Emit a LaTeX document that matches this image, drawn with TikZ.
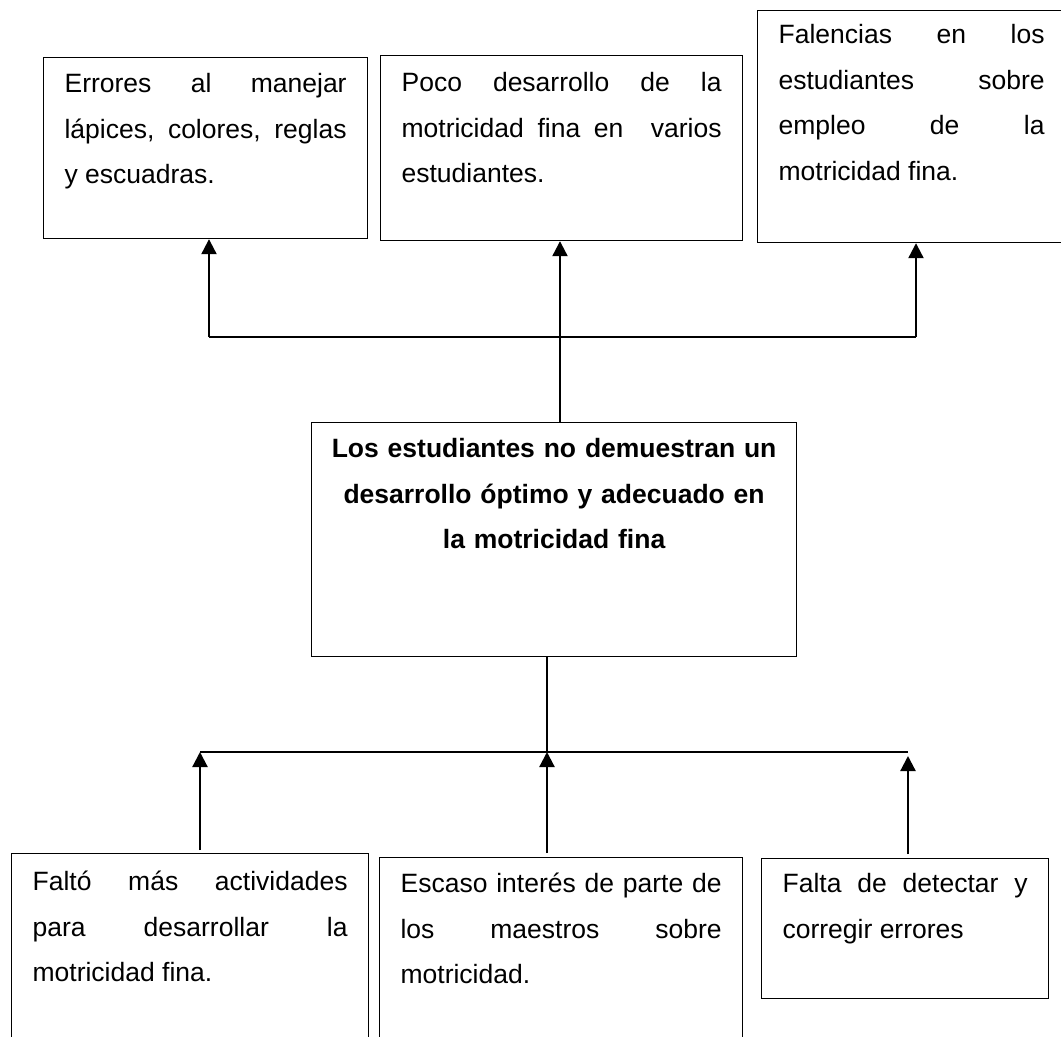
\documentclass[tikz,border=0pt]{standalone}
\usepackage{fontspec}
\setmainfont{Liberation Sans}
\usepackage{tikz}
\usetikzlibrary{arrows.meta,calc,positioning}
\hyphenpenalty=10000
\exhyphenpenalty=10000

\begin{document}
\begin{tikzpicture}[x=0.5pt,y=-0.5pt,
  caja/.style={draw,line width=0.6pt,anchor=north west,inner xsep=10.5pt,inner ysep=0pt,
    align=justify,font=\fontsize{13.25}{22.75}\selectfont},
  linea/.style={line width=0.6pt},
  flecha/.style={line width=1.1pt,-{Triangle[width=7.5pt,length=7.5pt]}}]
  \useasboundingbox (0,0) rectangle (1061,1037);
  \clip (0,0) rectangle (1061,1037);
  % --- Efectos (fila superior) ---
  \node[caja,text width=141pt,text height=17.5pt,text depth=73pt] (efecto1) at (43,57)
    {Errores al manejar\linebreak lápices, colores, reglas\linebreak y escuadras.};
  \node[caja,text width=160pt,text height=18pt,text depth=74.5pt] (efecto2) at (380,55)
    {Poco desarrollo de la\linebreak motricidad fina en\ \ varios\linebreak estudiantes.};
  \node[caja,text width=133pt,text height=16.5pt,text depth=99.5pt] (efecto3) at (757,10)
    {Falencias en los\linebreak estudiantes sobre\linebreak empleo de la\linebreak motricidad fina.};
  % --- Problema central ---
  \node[caja,align=center,text width=230pt,inner xsep=6.25pt,text height=17.5pt,text depth=99.5pt,
    font=\fontsize{13.25}{22.75}\selectfont\bfseries] (problema) at (311,422)
    {Los estudiantes no demuestran un\\ desarrollo óptimo y adecuado en\\ la motricidad fina};
  % --- Causas (fila inferior) ---
  \node[caja,text width=157.5pt,text height=18.5pt,text depth=85pt] (causa1) at (11,853)
    {Faltó más actividades\linebreak para desarrollar la\linebreak motricidad fina.};
  \node[caja,text width=160.5pt,text height=17.5pt,text depth=84pt] (causa2) at (379,857)
    {Escaso interés de parte de\linebreak los maestros sobre\linebreak motricidad.};
  \node[caja,text width=122.5pt,text height=17pt,text depth=53pt] (causa3) at (761,858)
    {Falta de detectar y\linebreak corregir errores};
  % --- Conectores superiores ---
  \coordinate (busL) at (209,337);
  \coordinate (busM) at (560,337);
  \coordinate (busR) at (916,337);
  \draw[linea] (busL) -- (busR);
  \draw[linea] (problema.north -| busM) -- (busM);
  \draw[flecha] (busL) -- (efecto1.south -| busL);
  \draw[flecha] (busM) -- (efecto2.south -| busM);
  \draw[flecha] (busR) -- (efecto3.south -| busR);
  % --- Conectores inferiores ---
  \coordinate (busBL) at (200,752);
  \coordinate (busBM) at (547,752);
  \coordinate (busBR) at (908,752);
  \draw[linea] (busBL) -- (busBR);
  \draw[linea] (problema.south -| busBM) -- (busBM);
  \draw[flecha] ($(causa1.north -| busBL)+(0,-3)$) -- (busBL);
  \draw[flecha] ($(causa2.north -| busBM)+(0,-4)$) -- (busBM);
  \draw[flecha] ($(causa3.north -| busBR)+(0,-4)$) -- ($(busBR)+(0,4)$);
\end{tikzpicture}
\end{document}
